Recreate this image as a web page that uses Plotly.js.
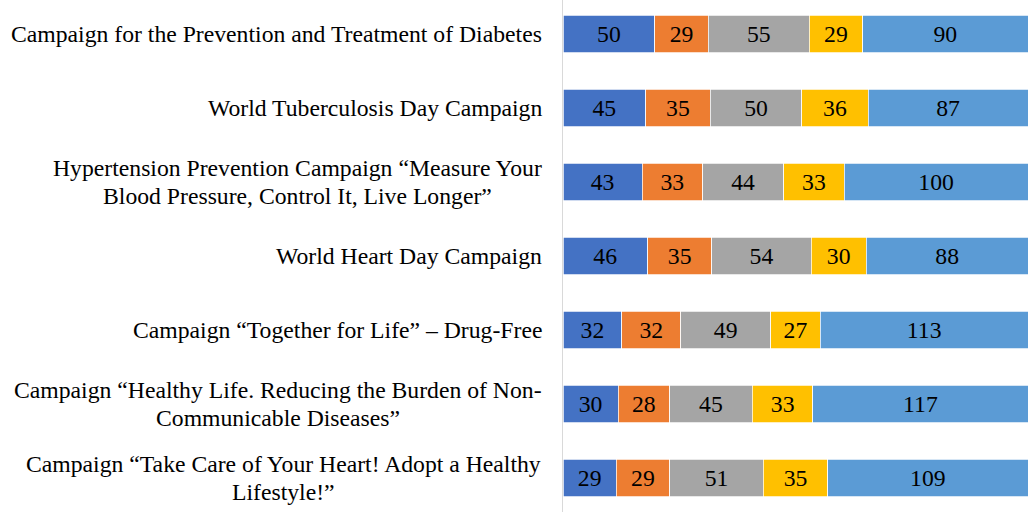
<!DOCTYPE html>
<html>
<head>
<meta charset="utf-8">
<script src="https://cdn.plot.ly/plotly-3.0.1.min.js"></script>
<style>html,body{margin:0;padding:0;background:#fff;}#chart{width:1028px;height:512px;}</style>
</head>
<body>
<div id="chart"></div>
<script>
const categories = [
  "Campaign for the Prevention and Treatment of Diabetes",
  "World Tuberculosis Day Campaign",
  "Hypertension Prevention Campaign \u201cMeasure Your<br>Blood Pressure, Control It, Live Longer\u201d",
  "World Heart Day Campaign",
  "Campaign \u201cTogether for Life\u201d \u2013 Drug-Free",
  "Campaign \u201cHealthy Life. Reducing the Burden of Non-<br>Communicable Diseases\u201d",
  "Campaign \u201cTake Care of Your Heart! Adopt a Healthy<br>Lifestyle!\u201d"
];
const seriesNames = ["Series 1", "Series 2", "Series 3", "Series 4", "Series 5"];
const series1 = [50, 45, 43, 46, 32, 30, 29];
const series2 = [29, 35, 33, 35, 32, 28, 29];
const series3 = [55, 50, 44, 54, 49, 45, 51];
const series4 = [29, 36, 33, 30, 27, 33, 35];
const series5 = [90, 87, 100, 88, 113, 117, 109];
const colors = ["#4472C4", "#ED7D31", "#A5A5A5", "#FFC000", "#5B9BD5"];

const font = "Liberation Serif, Times New Roman, serif";
const fsize = 23.7;
const lineGap = 28.5;
const allSeries = [series1, series2, series3, series4, series5];
const traces = allSeries.map((vals, i) => ({
  type: "bar",
  orientation: "h",
  name: seriesNames[i],
  x: vals,
  y: categories,
  text: vals.map(String),
  textposition: "inside",
  insidetextanchor: "middle",
  constraintext: "none",
  textfont: {family: font, size: fsize, color: "#000"},
  marker: {color: colors[i], line: {color: "#ffffff", width: 0.75}},
  hoverinfo: "x+y+name"
}));

const total = series1.map((v, i) => v + series2[i] + series3[i] + series4[i] + series5[i]);
const xmax = Math.max(...total);

const ctx = document.createElement("canvas").getContext("2d");
ctx.font = fsize + "px 'Liberation Serif', 'Times New Roman', serif";
const rightGap = 21;
const annotations = [];
categories.forEach(c => {
  const lines = c.split("<br>");
  const widths = lines.map(l => ctx.measureText(l).width);
  const maxW = Math.max(...widths);
  const n = lines.length;
  lines.forEach((l, k) => {
    annotations.push({
      xref: "paper", yref: "y", x: 0, y: c,
      text: l, showarrow: false, xanchor: "center", yanchor: "middle",
      xshift: -rightGap - maxW / 2,
      yshift: ((n - 1) / 2 - k) * lineGap,
      font: {family: font, size: fsize, color: "#000"}
    });
  });
});

const layout = {
  width: 1028, height: 512,
  margin: {l: 563, r: 0, t: 0, b: 0},
  barmode: "stack",
  bargap: 0.49,
  showlegend: false,
  paper_bgcolor: "#fff", plot_bgcolor: "#fff",
  font: {family: font, size: fsize, color: "#000"},
  xaxis: {range: [0, xmax], visible: false, showgrid: false, zeroline: false, fixedrange: true},
  yaxis: {
    type: "category",
    categoryorder: "array", categoryarray: categories,
    range: [6.4595, -0.4595],
    showticklabels: false, ticks: "",
    showline: true, linecolor: "#d9d9d9", linewidth: 1.3,
    showgrid: false, zeroline: false, fixedrange: true
  },
  annotations: annotations
};

Plotly.newPlot("chart", traces, layout, {displayModeBar: false, staticPlot: true});
</script>
</body>
</html>
